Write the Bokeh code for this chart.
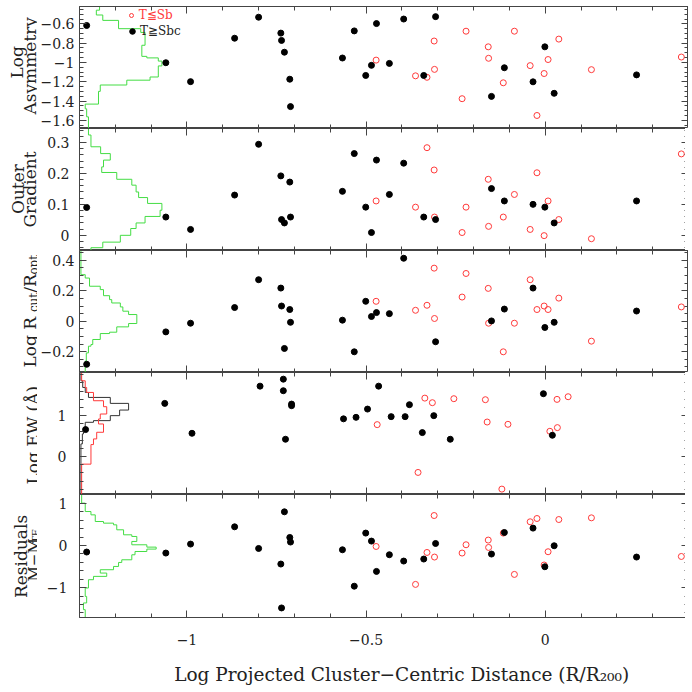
from math import pi
import numpy as np
from bokeh.plotting import figure
from bokeh.layouts import column, row
from bokeh.core.properties import value
from bokeh.models import (Range1d, FixedTicker, CustomJSTickFormatter, LinearAxis,
                          Legend, LegendItem)
from bokeh.embed import file_html
from bokeh.resources import INLINE

# ---------------- data ----------------
# Log projected cluster-centric distance, late types (T>=Sbc) and early types (T<=Sb)
late_x = [-1.280, -1.059, -0.990, -0.867, -0.800, -0.738, -0.736, -0.728, -0.713, -0.711,
          -0.566, -0.533, -0.501, -0.485, -0.471, -0.435, -0.395, -0.339, -0.306, -0.150,
          -0.114, -0.034, -0.001, 0.025, 0.255]
early_x = [-0.472, -0.362, -0.330, -0.310, -0.309, -0.232, -0.221, -0.159, -0.158, -0.117,
           -0.086, -0.042, -0.023, -0.003, 0.008, 0.038, 0.129, 0.380]

# Panel 1: log asymmetry
asym_late = [-0.617, -1.003, -1.199, -0.749, -0.531, -0.696, -0.772, -0.894, -1.174, -1.458,
             -0.954, -0.673, -1.135, -1.030, -0.597, -1.010, -0.550, -1.135, -0.525, -1.352,
             -1.055, -1.201, -0.838, -1.320, -1.129]
asym_early = [-0.976, -1.139, -1.154, -0.778, -1.072, -1.376, -0.676, -0.838, -0.957, -1.211,
              -0.676, -1.033, -1.550, -1.115, -0.970, -0.758, -1.075, -0.944]

# Panel 2: outer gradient
grad_late = [0.090, 0.059, 0.019, 0.130, 0.294, 0.192, 0.051, 0.040, 0.172, 0.059,
             0.142, 0.264, 0.091, 0.009, 0.243, 0.132, 0.233, 0.059, 0.051, 0.151,
             0.111, 0.100, 0.091, 0.040, 0.111]
grad_early = [0.111, 0.091, 0.283, 0.211, 0.059, 0.009, 0.091, 0.181, 0.029, 0.059,
              0.132, 0.019, 0.202, -0.001, 0.111, 0.051, -0.011, 0.263]

# Panel 3: log Rcut/Ropt  (None = no measurement)
rcut_late = [-0.283, -0.070, -0.013, 0.090, 0.273, 0.218, 0.100, -0.179, 0.077, -0.007,
             0.007, -0.201, 0.131, 0.031, 0.057, 0.050, 0.414, None, -0.135, 0.002,
             0.080, 0.218, -0.041, -0.007, 0.067]
rcut_early = [0.131, 0.072, 0.105, 0.349, 0.018, 0.159, 0.314, 0.216, -0.013, -0.201,
              -0.013, 0.273, 0.077, 0.100, 0.077, 0.152, -0.131, 0.094]

# Panel 4: log EW (own sample)
ew_late_x = [-1.283, -1.062, -0.986, -0.796, -0.731, -0.731, -0.708, -0.708, -0.725, -0.563,
             -0.528, -0.496, -0.465, -0.430, -0.391, -0.379, -0.343, -0.311, -0.265, -0.005, 0.020]
ew_late = [0.659, 1.300, 0.568, 1.722, 1.893, 1.610, 1.283, 1.244, 0.422, 0.922,
           0.959, 1.161, 1.722, 0.976, 0.976, 1.268, 0.585, 1.000, 0.422, 1.537, 0.520]
ew_early_x = [-0.469, -0.355, -0.336, -0.315, -0.255, -0.167, -0.162, -0.121, -0.104, 0.013,
              0.033, 0.034, 0.064]
ew_early = [0.780, -0.390, 1.429, 1.317, 1.415, 1.390, 0.844, -0.798, 0.788, 0.617,
            1.398, 0.707, 1.463]

# Panel 5: TF residuals
res_late = [-0.156, -0.180, 0.033, 0.443, -0.071, -0.441, -1.483, 0.799, 0.190, 0.081,
            -0.102, -0.967, 0.294, 0.104, -0.616, -0.220, -0.370, -0.322, 0.047, -0.204,
            0.308, 0.412, -0.505, -0.007, -0.275]
res_early = [-0.024, -0.924, -0.166, 0.711, -0.275, -0.180, 0.017, 0.128, -0.047, 0.294,
             -0.687, 0.562, 0.640, -0.464, -0.149, 0.616, 0.656, -0.261]

# Comparison-sample histograms (bin edges along y, step position along x)
asym_hist_edges = [-0.42, -0.458, -0.508, -0.564, -0.650, -0.689, -0.822, -0.937, -0.953, -0.986,
                   -1.036, -1.151, -1.184, -1.234, -1.300, -1.432, -1.481, -1.564, -1.70]
asym_hist_vals = [-1.244, -1.253, -1.235, -1.191, -1.129, -1.117, -1.126, -1.112, -1.080,
                  -1.070, -1.080, -1.103, -1.168, -1.242, -1.247, -1.284, -1.280, -1.275]
grad_hist_edges = [0.345, 0.324, 0.286, 0.264, 0.243, 0.221, 0.203, 0.181, 0.162, 0.140,
                   0.122, 0.103, 0.081, 0.061, 0.040, 0.022, 0.000, -0.022, -0.040, -0.049]
grad_hist_vals = [-1.275, -1.268, -1.241, -1.214, -1.233, -1.238, -1.196, -1.154, -1.142,
                  -1.135, -1.110, -1.070, -1.075, -1.117, -1.142, -1.157, -1.186, -1.235, -1.268]
rcut_hist_edges = [0.465, 0.306, 0.284, 0.230, 0.208, 0.168, 0.142, 0.120, 0.094, 0.066, 0.044,
                   -0.015, -0.037, -0.072, -0.081, -0.120, -0.153, -0.164, -0.208, -0.262, -0.337]
rcut_hist_vals = [-1.296, -1.284, -1.272, -1.242, -1.233, -1.216, -1.210, -1.186, -1.179, -1.163,
                  -1.140, -1.163, -1.196, -1.216, -1.242, -1.263, -1.268, -1.275, -1.281, -1.284]
ew_hist_late_edges = [2.056, 1.853, 1.690, 1.568, 1.446, 1.300, 1.137, 1.000, 0.878, 0.837,
                      0.674, 0.552, 0.308, -0.93]
ew_hist_late_vals = [-1.296, -1.291, -1.284, -1.275, -1.214, -1.163, -1.188, -1.214, -1.261,
                     -1.284, -1.289, -1.292, -1.296]
ew_hist_early_edges = [2.056, 1.853, 1.690, 1.568, 1.365, 1.219, 1.040, 0.918, 0.796, 0.593,
                       0.430, 0.292, -0.187, -0.93]
ew_hist_early_vals = [-1.294, -1.284, -1.280, -1.261, -1.233, -1.224, -1.242, -1.247, -1.233,
                      -1.252, -1.261, -1.268, -1.294]
res_hist_edges = [1.21, 1.005, 0.806, 0.727, 0.569, 0.530, 0.490, 0.372, 0.253, 0.214, 0.095,
                  0.016, -0.039, -0.086, -0.143, -0.221, -0.340, -0.403, -0.498, -0.576, -0.655,
                  -0.734, -0.813, -1.01, -1.209, -1.365, -1.524, -1.71]
res_hist_vals = [-1.294, -1.284, -1.268, -1.256, -1.233, -1.205, -1.196, -1.177, -1.154, -1.140,
                 -1.154, -1.112, -1.086, -1.112, -1.145, -1.154, -1.182, -1.191, -1.205, -1.242,
                 -1.224, -1.261, -1.275, -1.284, -1.280, -1.289, -1.284]

# Ticks
x_major = [-1, -0.5, 0]
x_minor = [-1.2, -1.1, -1.0, -0.9, -0.8, -0.7, -0.6, -0.5, -0.4, -0.3, -0.2, -0.1,
           0.0, 0.1, 0.2, 0.3]
asym_major = [-1.6, -1.4, -1.2, -1, -0.8, -0.6]
asym_minor = [-1.65, -1.6, -1.55, -1.5, -1.45, -1.4, -1.35, -1.3, -1.25, -1.2, -1.15, -1.1,
              -1.05, -1.0, -0.95, -0.9, -0.85, -0.8, -0.75, -0.7, -0.65, -0.6, -0.55, -0.5,
              -0.45]
grad_major = [0, 0.1, 0.2, 0.3]
grad_minor = [-0.04, -0.02, 0.0, 0.02, 0.04, 0.06, 0.08, 0.1, 0.12, 0.14, 0.16, 0.18, 0.2,
              0.22, 0.24, 0.26, 0.28, 0.3, 0.32, 0.34]
rcut_major = [-0.2, 0, 0.2, 0.4]
rcut_minor = [-0.3, -0.25, -0.2, -0.15, -0.1, -0.05, 0.0, 0.05, 0.1, 0.15, 0.2, 0.25, 0.3,
              0.35, 0.4, 0.45]
ew_major = [0, 1]
ew_minor = [-0.8, -0.6, -0.4, -0.2, 0.0, 0.2, 0.4, 0.6, 0.8, 1.0, 1.2, 1.4, 1.6, 1.8, 2.0]
res_major = [-1, 0, 1]
res_minor = [-1.6, -1.4, -1.2, -1.0, -0.8, -0.6, -0.4, -0.2, 0.0, 0.2, 0.4, 0.6, 0.8, 1.0, 1.2]

# ---------------- style ----------------
FONT = "DejaVu Serif"
AX = "#444444"
TXT = "#222222"
RED = "#ff3a3a"
GREEN = "#44dd44"
FW = 609          # frame width
FH = 122          # frame height
LEFT = 76         # frame left edge on the page
LW = 37           # width of the strip that carries the vertical panel titles
BOTTOM5 = 74      # room under the last panel for the x axis
TOTAL_H = 6 + 4 * FH + (FH + 1) + BOTTOM5
XR = (-1.30, 0.40)

fmt_code = "return String(tick).replace('-', '\u2212');"


def style_axis(ax, labels):
    ax.axis_line_color = AX
    ax.major_tick_line_color = AX
    ax.minor_tick_line_color = AX
    ax.major_tick_in = 7
    ax.major_tick_out = 0
    ax.minor_tick_in = 4
    ax.minor_tick_out = 0
    if labels:
        ax.major_label_text_font = FONT
        ax.major_label_text_font_size = "14px"
        ax.major_label_text_color = TXT
        ax.formatter = CustomJSTickFormatter(code=fmt_code)
    else:
        ax.major_label_text_font_size = "0px"
        ax.major_label_text_color = None
        ax.major_label_standoff = 0


def make_panel(yr, ymaj, ymin, standoff, fh=FH, top=0, last=False):
    p = figure(frame_width=FW, frame_height=fh,
               x_range=Range1d(*XR), y_range=Range1d(*yr),
               output_backend="svg", toolbar_location=None,
               x_axis_location=None, y_axis_location=None,
               min_border_left=LEFT - LW, min_border_right=0, min_border_top=top,
               min_border_bottom=BOTTOM5 if last else 0)
    p.xgrid.visible = False
    p.ygrid.visible = False
    p.outline_line_color = AX
    p.background_fill_color = "white"
    p.border_fill_color = "white"
    xt = FixedTicker(ticks=x_major, minor_ticks=x_minor)
    yt = FixedTicker(ticks=ymaj, minor_ticks=ymin)
    bottom = LinearAxis(ticker=xt)
    style_axis(bottom, last)
    if last:
        bottom.major_label_standoff = 16
        bottom.axis_label = ("\u00a0" * 6 +
                             "Log Projected Cluster\u2212Centric Distance (R/R\u2082\u2080\u2080)")
        bottom.axis_label_text_font = FONT
        bottom.axis_label_text_font_size = "18.5px"
        bottom.axis_label_text_font_style = "normal"
        bottom.axis_label_text_color = TXT
        bottom.axis_label_standoff = 16
    top_ax = LinearAxis(ticker=xt)
    style_axis(top_ax, False)
    left = LinearAxis(ticker=yt)
    style_axis(left, True)
    left.major_label_standoff = standoff
    right = LinearAxis(ticker=yt)
    style_axis(right, False)
    p.add_layout(bottom, "below")
    p.add_layout(top_ax, "above")
    p.add_layout(left, "left")
    p.add_layout(right, "right")
    return p


def hist_line(p, edges, vals, color):
    xs, ys = [], []
    for i, v in enumerate(vals):
        xs += [v, v]
        ys += [edges[i], edges[i + 1]]
    p.line(xs, ys, line_color=color, line_width=1)


def points(p, lx, ly, ex, ey):
    re = p.scatter(ex, np.array(ey, dtype=float), size=6, fill_color=None,
                   line_color=RED, line_width=1)
    rl = p.scatter(lx, np.array(ly, dtype=float), size=6, fill_color="black",
                   line_color="black")
    return re, rl


def nan_list(vals):
    return [np.nan if v is None else v for v in vals]


# Strip with the vertical panel titles (one figure for the whole height;
# y is measured in pixels up from the bottom of the page area)
lab = figure(width=LW, height=TOTAL_H, x_range=Range1d(0, LW), y_range=Range1d(0, TOTAL_H),
             output_backend="svg", toolbar_location=None,
             x_axis_location=None, y_axis_location=None, min_border=0)
lab.xgrid.visible = False
lab.ygrid.visible = False
lab.outline_line_color = None


def ytext(texts, xs, page_ys, size=17):
    # vertical text reading upward, starting at page position (x, page_y)
    lab.text(x=xs, y=[TOTAL_H - v for v in page_ys], text=texts, angle=pi / 2,
             text_align="left", text_baseline="alphabetic", text_font=value(FONT),
             text_font_size=value(f"{size}px"), text_color=TXT)


# Panel 1 ------------------------------------------------------------
p1 = make_panel((-1.685, -0.42), asym_major, asym_minor, 5, top=6)
hist_line(p1, asym_hist_edges, asym_hist_vals, GREEN)
r_e, r_l = points(p1, late_x, asym_late, early_x, asym_early)
leg_e = Legend(items=[LegendItem(label="T\u2266Sb", renderers=[r_e])], location=(46.7, 105.7),
               padding=0, margin=0, spacing=0, glyph_width=10, glyph_height=10,
               label_height=12, label_standoff=3, label_text_font=FONT,
               label_text_font_size="12px", label_text_color=RED,
               border_line_alpha=0, background_fill_alpha=0)
leg_l = Legend(items=[LegendItem(label="T\u2267Sbc", renderers=[r_l])], location=(46, 89.7),
               padding=0, margin=0, spacing=0, glyph_width=14, glyph_height=14,
               label_height=14, label_standoff=1, label_text_font=FONT,
               label_text_font_size="12px", label_text_color=TXT,
               border_line_alpha=0, background_fill_alpha=0)
p1.add_layout(leg_e)
p1.add_layout(leg_l)
ytext(["Log", "Asymmetry"], [16, 29], [78, 114])

# Panel 2 ------------------------------------------------------------
p2 = make_panel((-0.049, 0.345), grad_major, grad_minor, 10)
hist_line(p2, grad_hist_edges, grad_hist_vals, GREEN)
points(p2, late_x, grad_late, early_x, grad_early)
ytext(["Outer", "Gradient"], [17, 29], [213.5, 227])

# Panel 3 ------------------------------------------------------------
p3 = make_panel((-0.337, 0.465), rcut_major, rcut_minor, 5)
hist_line(p3, rcut_hist_edges, rcut_hist_vals, GREEN)
points(p3, late_x, nan_list(rcut_late), early_x, rcut_early)
ytext(["Log  R", "/R"], [29, 29], [367, 292.3], 17)
ytext(["cut", "opt"], [33, 33], [311.6, 274.1], 12)

# Panel 4 ------------------------------------------------------------
p4 = make_panel((-0.93, 2.056), ew_major, ew_minor, 13)
hist_line(p4, ew_hist_late_edges, ew_hist_late_vals, "#333333")
hist_line(p4, ew_hist_early_edges, ew_hist_early_vals, RED)
points(p4, ew_late_x, ew_late, ew_early_x, ew_early)
ytext(["Log EW (\u00c5)"], [32], [484])

# Panel 5 ------------------------------------------------------------
p5 = make_panel((-1.71, 1.21), res_major, res_minor, 12, fh=FH + 1, last=True)
hist_line(p5, res_hist_edges, res_hist_vals, GREEN)
points(p5, late_x, res_late, early_x, res_early)
ytext(["Residuals"], [20], [597.5])
ytext(["M\u2212M"], [33], [581], 15)
ytext(["TF"], [34.5], [542.3], 10)

layout = row(lab, column(p1, p2, p3, p4, p5, spacing=0), spacing=0)
open("out.html", "w").write(file_html(layout, INLINE))
